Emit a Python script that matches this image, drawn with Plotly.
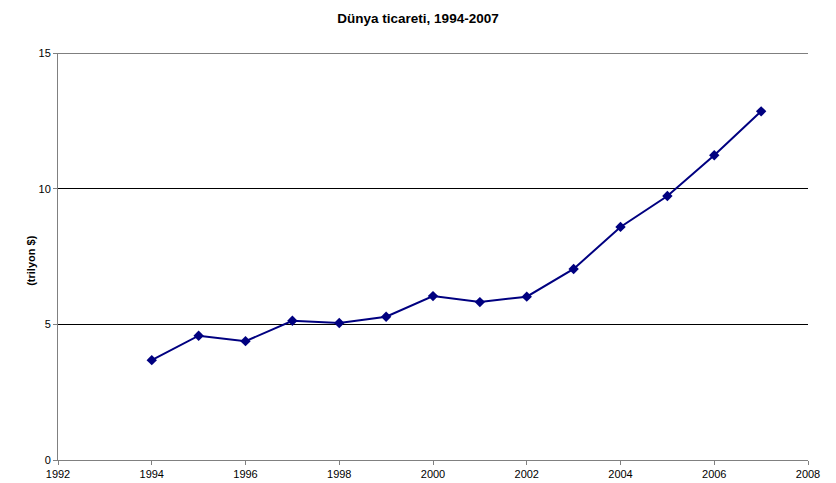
import plotly.graph_objects as go

# Dünya ticareti (trilyon $)
years = [1994, 1995, 1996, 1997, 1998, 1999, 2000, 2001, 2002, 2003, 2004, 2005, 2006, 2007]
trade = [3.68, 4.58, 4.38, 5.13, 5.05, 5.28, 6.04, 5.82, 6.02, 7.04, 8.59, 9.73, 11.23, 12.85]
y_max = 15

fig = go.Figure()
fig.add_trace(go.Scatter(
    x=years, y=trade, mode="lines+markers",
    line=dict(color="#000080", width=2),
    marker=dict(symbol="diamond", size=8, color="#000080"),
    showlegend=False,
))

fig.update_layout(
    width=836, height=483,
    margin=dict(l=58, r=28, t=53, b=23, autoexpand=False),
    paper_bgcolor="white", plot_bgcolor="white",
    font=dict(family="Arial, Liberation Sans, sans-serif", size=11, color="black"),
    title=dict(text="<b>Dünya ticareti, 1994-2007</b>", x=0.5, xanchor="center",
               y=0.972, yanchor="top", font=dict(size=13.5)),
    xaxis=dict(range=[1992, 2008], tickvals=list(range(1992, 2009, 2)),
               showgrid=False, zeroline=False, showline=True, linecolor="#808080",
               linewidth=1, ticks="outside", ticklen=4, tickcolor="#808080",
               automargin=False),
    yaxis=dict(range=[0, y_max], tickvals=[0, 5, 10, 15], showgrid=True,
               gridcolor="black", gridwidth=1, zeroline=False, showline=True,
               linecolor="#808080", linewidth=1, ticks="outside", ticklen=4,
               tickcolor="#808080", automargin=False),
    annotations=[dict(text="<b>(trilyon $)</b>", xref="paper", yref="paper",
                      x=-0.037, y=0.49, textangle=-90, showarrow=False,
                      xanchor="center", yanchor="middle", font=dict(size=11))],
    # üst kenardaki 15 ızgara çizgisi
    shapes=[dict(type="line", xref="paper", x0=0, x1=1, yref="y", y0=y_max, y1=y_max,
                 line=dict(color="black", width=1), layer="below")],
)

# sayfa kenar boşluğunu kaldır
fig.write_html("out.html", config={"displayModeBar": False},
               post_script="document.body.style.margin='0px';")
